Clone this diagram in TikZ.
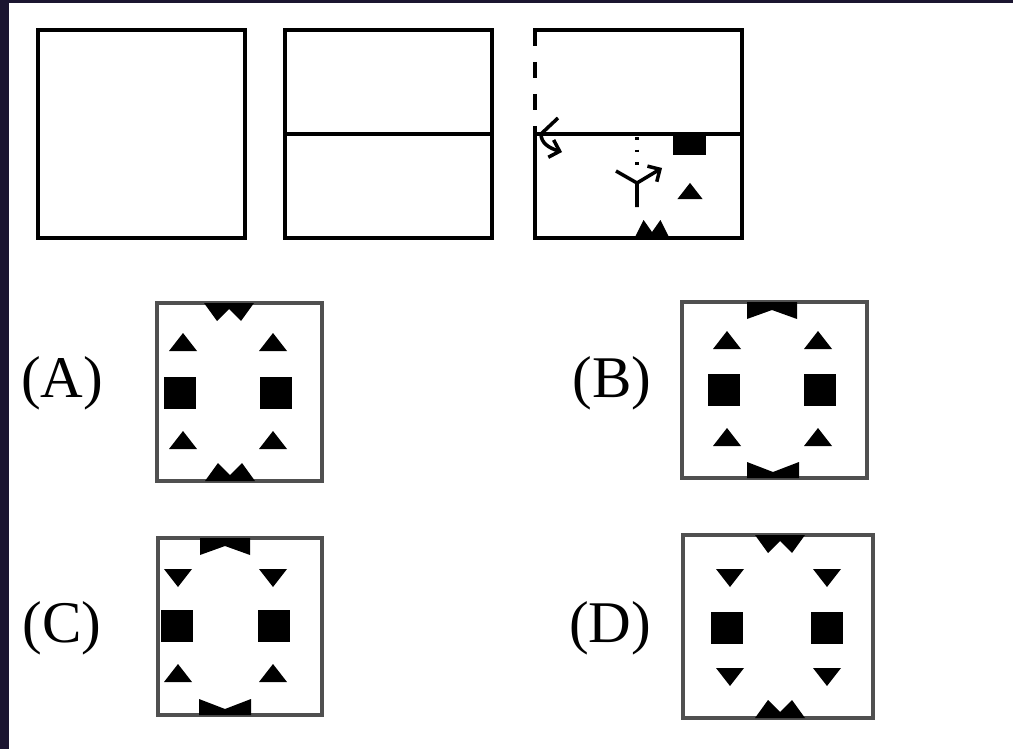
\documentclass[tikz,border=0pt]{standalone}
\usepackage{fontspec}
\setmainfont{Liberation Serif}
\usetikzlibrary{arrows.meta, positioning}
\definecolor{navyedge}{HTML}{1B1530}
\definecolor{boxgray}{HTML}{505050}

\begin{document}
\begin{tikzpicture}[x=0.025cm, y=-0.025cm,
qbox/.style={rectangle, draw=black, line width=3pt, minimum width=5.175cm, minimum height=5.2cm, inner sep=0pt, outer sep=0pt},
optbox/.style={rectangle, draw=boxgray, line width=2.5pt, inner sep=0pt},
optlabel/.style={font=\fontsize{42}{48}\selectfont, inner sep=0pt},
foldarrow/.style={line width=2.5pt, -{Straight Barb[angle=90:3.2mm]}},
triup/.pic={\fill (-14,9) -- (14,9) -- (0,-9) -- cycle;},
tridown/.pic={\fill (-14,-9) -- (14,-9) -- (0,9) -- cycle;},
sq/.pic={\fill (-16,-16) rectangle (16,16);},
teethdown/.pic={\fill (-25,0) -- (-12,18) -- (0,6) -- (12,18) -- (25,0) -- cycle;},
teethup/.pic={\fill (-25,0) -- (-12,-18) -- (0,-6) -- (12,-18) -- (25,0) -- cycle;},
notchtop/.pic={\fill (-25,0) -- (25,0) -- (25,17) -- (0,8) -- (-25,17) -- cycle;},
notchbot/.pic={\fill (-26,0) -- (26,0) -- (26,-16) -- (0,-6) -- (-26,-16) -- cycle;},
]
%Frame
\useasboundingbox (0,0) rectangle (1013,749);
\fill[navyedge] (0,0) rectangle (1013,749);
\fill[white] (9,3) rectangle (1013,749);

%Question figures
\node[qbox] (Q1) at (141.5,134) {};
\node[qbox] (Q2) at (388.5,134) {};
\node[qbox, draw=none] (Q3) at (638.5,134) {};
\draw[line width=3pt] (Q2.west) -- (Q2.east);
\draw[line width=3pt] (Q3.west) -- (Q3.south west) -- (Q3.south east) -- (Q3.north east) -- ([xshift=-1.5pt]Q3.north west);
\draw[line width=3pt, dash pattern=on 0.4cm off 0.4cm] (Q3.north west) -- (Q3.west);
\draw[line width=3pt] (Q3.west) -- (Q3.east);
\fill (673,133) rectangle (706,155);
\pic[scale=0.9] at (690,191) {triup};
\pic[xscale=0.7] at (652,238) {teethup};
\draw[line width=2.5pt, dash pattern=on 2pt off 7pt] (637,137) -- (637,170);
% fold arrows
\draw[foldarrow] (558,118) -- (541,134) .. controls (541,143) and (549,148) .. (562,152);
\draw[line width=2.5pt] (637,207) -- (637,183) -- (616,171);
\draw[foldarrow] (637,183) -- (662,168);

%Answer figures
\node[optbox, minimum width=4.125cm, minimum height=4.45cm] (OA) at (239.5,392) {};
\node[optbox, minimum width=4.625cm, minimum height=4.4cm] (OB) at (774.5,390) {};
\node[optbox, minimum width=4.1cm, minimum height=4.425cm] (OC) at (240,626.5) {};
\node[optbox, minimum width=4.75cm, minimum height=4.575cm] (OD) at (778,626.5) {};
\node[optlabel] (LA) at (62,383) {(A)};
\node[optlabel] (LB) at (612,383) {(B)};
\node[optlabel] (LC) at (62,628) {(C)};
\node[optlabel] (LD) at (610,628) {(D)};

%(A)
\pic at (229,303) {teethdown};
\pic at (183,342) {triup};
\pic at (273,342) {triup};
\pic at (180,393) {sq};
\pic at (276,393) {sq};
\pic at (183,440) {triup};
\pic at (273,440) {triup};
\pic at (230,481) {teethup};
%(B)
\pic at (772,302) {notchtop};
\pic at (727,340) {triup};
\pic at (818,340) {triup};
\pic at (724,390) {sq};
\pic at (820,390) {sq};
\pic at (727,437) {triup};
\pic at (818,437) {triup};
\pic at (773,478) {notchbot};
%(C)
\pic at (225,538) {notchtop};
\pic at (178,578) {tridown};
\pic at (273,578) {tridown};
\pic at (177,626) {sq};
\pic at (274,626) {sq};
\pic at (178,673) {triup};
\pic at (273,673) {triup};
\pic at (225,715) {notchbot};
%(D)
\pic at (780,535) {teethdown};
\pic at (730,578) {tridown};
\pic at (827,578) {tridown};
\pic at (727,628) {sq};
\pic at (827,628) {sq};
\pic at (730,677) {tridown};
\pic at (827,677) {tridown};
\pic at (780,718) {teethup};

\end{tikzpicture}
\end{document}
